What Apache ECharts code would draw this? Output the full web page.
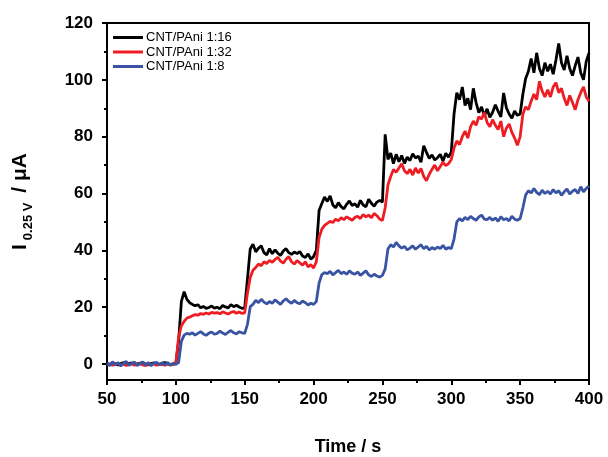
<!DOCTYPE html>
<html>
<head>
<meta charset="utf-8">
<script src="https://cdn.jsdelivr.net/npm/echarts@6/dist/echarts.min.js"></script>
<style>
  html, body { margin: 0; padding: 0; background: #fff; }
  #chart { width: 608px; height: 457px; }
</style>
</head>
<body>
<div id="chart"></div>
<script>
// sampled every 2 s from 50 s to 400 s
var tStart = 50, tStep = 2;

var names = ["CNT/PAni 1:16", "CNT/PAni 1:32", "CNT/PAni 1:8"];
var colors = ["#000000", "#ee1d23", "#3a54a4"];

var yTicks = [0, 20, 40, 60, 80, 100, 120];
var yMinorTicks = [10, 30, 50, 70, 90, 110];

var black = [
  0.3, -0.2, 0.4, 0.1, -0.3, 0.2, 0.5, -0.1, 0.2, 0.4,
  -0.2, 0.1, 0.3, 0.6, 0.0, -0.3, 0.2, 0.4, 0.1, -0.1,
  0.3, 0.5, 0.2, -0.2, 0.1, 0.3, 8.0, 22.0, 25.5, 22.8,
  21.6, 21.0, 20.5, 20.9, 19.8, 20.3, 19.6, 19.9, 20.4, 19.7,
  20.0, 19.5, 20.6, 20.1, 19.8, 20.9, 20.2, 20.7, 20.1, 19.6,
  19.8, 30.0, 40.5, 42.2, 39.5, 40.8, 41.6, 39.2, 38.4, 40.6,
  38.8, 40.2, 39.0, 38.2, 39.8, 40.6, 39.2, 38.6, 39.4, 38.9,
  39.6, 38.0, 37.5, 38.8, 36.9, 37.8, 40.0, 54.0, 56.5, 58.8,
  57.2, 59.2, 56.0, 55.0, 56.8, 55.4, 54.6, 56.2, 57.4, 55.8,
  56.4, 55.2, 57.6, 56.0, 55.3, 58.0, 56.6, 55.5, 57.0, 57.6,
  57.0, 80.8, 72.0, 74.2, 70.5, 73.8, 71.2, 73.4, 70.6, 72.8,
  71.6, 74.0, 72.5, 73.2, 71.0, 76.8, 74.5, 72.4, 73.6, 71.8,
  72.6, 73.8, 71.4, 74.2, 72.8, 74.6, 88.0, 95.5, 93.0, 97.5,
  91.0, 93.5, 89.5, 97.0, 92.0, 88.5, 90.5, 87.2, 89.8, 86.8,
  88.6, 91.2, 89.0, 87.0, 95.4, 90.2, 88.0, 86.5, 89.0, 87.5,
  88.0, 95.0, 100.5, 103.0, 107.5, 102.5, 109.5, 104.0, 101.5, 106.0,
  103.0, 105.5, 102.0, 107.0, 112.8, 106.0, 103.5, 108.5, 104.0, 101.5,
  105.0, 108.0, 102.5, 100.0, 106.5, 109.5
];

var red = [
  -0.3, 0.1, -0.4, -0.1, 0.2, -0.3, 0.0, -0.5, -0.2, 0.1,
  -0.4, -0.1, 0.2, -0.3, -0.5, 0.0, -0.2, 0.1, -0.4, -0.2,
  -0.1, -0.4, 0.0, -0.3, -0.2, 0.2, 9.5, 13.5, 15.0, 16.2,
  16.5, 17.0, 17.4, 17.2, 17.8, 17.5, 18.0, 17.6, 18.2, 17.9,
  18.1, 17.7, 18.4, 18.0, 17.6, 18.2, 18.5, 17.9, 18.3, 17.8,
  18.0, 25.0, 30.5, 33.0, 34.0, 35.2, 34.6, 36.0, 35.4, 36.5,
  35.8, 36.8, 37.6, 36.2, 35.5, 36.9, 37.8, 36.0, 35.2, 36.4,
  35.6, 34.8, 36.0, 34.2, 35.0, 33.8, 36.0, 44.5, 47.5, 48.8,
  49.5, 50.2, 49.8, 51.0, 50.4, 51.5, 50.8, 51.8, 51.2, 50.6,
  51.6, 52.0, 51.2, 52.6, 51.8, 52.4, 51.5, 53.0, 52.2, 51.0,
  50.5, 55.0, 63.0, 66.0, 68.5, 67.5, 69.0, 70.5, 68.0, 67.0,
  68.5, 66.5, 69.0, 67.2, 68.8, 66.0, 64.5, 66.8, 68.5, 70.0,
  68.0, 69.5, 71.0, 69.8, 70.5, 72.0, 76.0, 78.5, 77.2, 80.0,
  82.0, 79.5, 83.5, 85.5, 84.0, 87.0, 86.2, 88.5, 85.0, 83.5,
  86.0, 84.0, 82.5, 85.5, 80.0, 83.0, 84.5, 81.5, 79.5, 77.0,
  80.0, 88.0, 90.5, 89.5, 92.5, 95.0, 93.0, 99.5, 96.0, 94.0,
  96.5, 94.0, 97.5, 99.0, 95.5, 97.0, 93.5, 91.0, 94.5, 92.0,
  89.5, 93.0, 95.5, 97.5, 94.0, 92.5
];

var blue = [
  0.4, -0.6, 0.8, -0.2, 0.5, -0.7, 0.3, 0.9, -0.4, 0.2,
  0.7, -0.5, 0.1, 0.8, -0.3, 0.5, -0.6, 0.3, 0.6, -0.2,
  0.4, -0.3, 0.6, -0.4, 0.2, -0.1, 0.5, 8.0, 10.2, 10.8,
  10.5, 11.0, 10.2, 10.8, 11.4, 10.6, 10.1, 10.9, 11.3, 10.5,
  10.8, 11.6, 10.9, 10.4, 11.2, 11.8, 11.0, 10.6, 11.4, 11.0,
  10.8, 14.0, 20.2, 21.0, 22.4, 21.6, 22.8, 21.8, 21.2, 22.0,
  21.4, 22.6, 21.8, 21.0, 22.2, 23.0, 22.0, 21.4, 22.4, 21.6,
  21.2, 22.2, 21.6, 20.8, 21.4, 21.0, 22.0, 28.5, 31.5, 32.2,
  31.8, 32.6, 31.4, 32.2, 33.0, 31.8, 32.4, 31.6, 32.8, 32.0,
  31.6, 32.4, 31.2, 32.0, 32.8, 31.4, 30.8, 31.6, 31.0, 30.6,
  31.2, 33.5, 40.5, 42.0, 41.2, 42.8, 41.6, 40.8, 41.4, 40.2,
  40.8, 41.6, 40.4, 41.2, 42.0, 40.6, 41.4, 40.2, 41.0, 40.4,
  41.2, 40.6, 41.8, 40.4, 41.0, 40.6, 44.0, 50.0, 51.2, 50.4,
  51.6, 50.8, 52.0, 51.2, 50.6, 51.8, 52.4, 51.0, 50.8, 51.6,
  50.6, 51.4, 50.2, 51.8, 50.8, 51.2, 50.4, 52.0, 51.0, 50.6,
  51.2, 55.0, 59.5, 61.0, 60.2, 61.8, 60.4, 59.6, 61.2, 60.0,
  60.8, 59.8, 61.4, 60.2, 61.0, 59.4, 60.6, 61.6, 59.8, 60.8,
  61.4, 60.0, 62.4, 60.6, 61.8, 62.6
];

function pairs(values) {
  return values.map(function (v, i) {
    return [tStart + i * tStep, v];
  });
}

var labelFont = {
  fontFamily: "Liberation Sans, Arial, sans-serif",
  fontWeight: "bold",
  fontSize: 17,
  color: "#000"
};

var chart = echarts.init(document.getElementById("chart"));

chart.setOption({
  animation: false,
  backgroundColor: "#fff",
  grid: {
    left: 107,
    right: 19,
    top: 23,
    bottom: 77,
    outerBoundsMode: "none",
    show: true,
    borderColor: "#000",
    borderWidth: 2,
    backgroundColor: "transparent"
  },
  legend: {
    orient: "vertical",
    left: 113,
    top: 31,
    padding: 0,
    icon: "rect",
    itemWidth: 30,
    itemHeight: 3,
    itemGap: 1.5,
    textStyle: {
      fontFamily: "Liberation Sans, Arial, sans-serif",
      fontSize: 13,
      color: "#000",
      padding: [0, 0, 0, -2]
    },
    data: names
  },
  xAxis: {
    type: "value",
    min: 50,
    max: 400,
    interval: 50,
    name: "Time / s",
    nameLocation: "middle",
    nameGap: 58,
    nameTextStyle: {
      fontFamily: "Liberation Sans, Arial, sans-serif",
      fontWeight: "bold",
      fontSize: 18,
      color: "#000"
    },
    axisLine: { onZero: false, lineStyle: { color: "#000", width: 2 } },
    axisTick: { length: 5, lineStyle: { color: "#000", width: 2 } },
    minorTick: { show: true, splitNumber: 2, length: 3, lineStyle: { color: "#000", width: 2 } },
    axisLabel: Object.assign({ margin: 11 }, labelFont),
    splitLine: { show: false }
  },
  yAxis: [
    {
      type: "value",
      min: -5.6,
      max: 120,
      name: "{a|I}{b|0.25 V}{a| / μA}",
      nameLocation: "middle",
      nameGap: 72,
      nameRotate: 90,
      nameTextStyle: {
        rich: {
          a: {
            fontFamily: "Liberation Sans, Arial, sans-serif",
            fontWeight: "bold",
            fontSize: 21,
            color: "#000"
          },
          b: {
            fontFamily: "Liberation Sans, Arial, sans-serif",
            fontWeight: "bold",
            fontSize: 13,
            color: "#000",
            padding: [16, 4, 0, 4]
          }
        }
      },
      axisLine: { onZero: false, lineStyle: { color: "#000", width: 2 } },
      axisTick: { length: 5, customValues: yTicks, lineStyle: { color: "#000", width: 2 } },
      axisLabel: Object.assign({ margin: 14, customValues: yTicks }, labelFont),
      splitLine: { show: false }
    },
    {
      type: "value",
      min: -5.6,
      max: 120,
      position: "left",
      axisLine: { show: false },
      axisTick: { length: 3, customValues: yMinorTicks, lineStyle: { color: "#000", width: 2 } },
      axisLabel: { show: false },
      splitLine: { show: false }
    }
  ],
  series: [
    {
      name: names[0],
      type: "line",
      symbol: "none",
      lineStyle: { color: colors[0], width: 2.8 },
      itemStyle: { color: colors[0] },
      data: pairs(black)
    },
    {
      name: names[1],
      type: "line",
      symbol: "none",
      lineStyle: { color: colors[1], width: 2.8 },
      itemStyle: { color: colors[1] },
      data: pairs(red)
    },
    {
      name: names[2],
      type: "line",
      symbol: "none",
      lineStyle: { color: colors[2], width: 2.8 },
      itemStyle: { color: colors[2] },
      data: pairs(blue)
    }
  ]
});
</script>
</body>
</html>
